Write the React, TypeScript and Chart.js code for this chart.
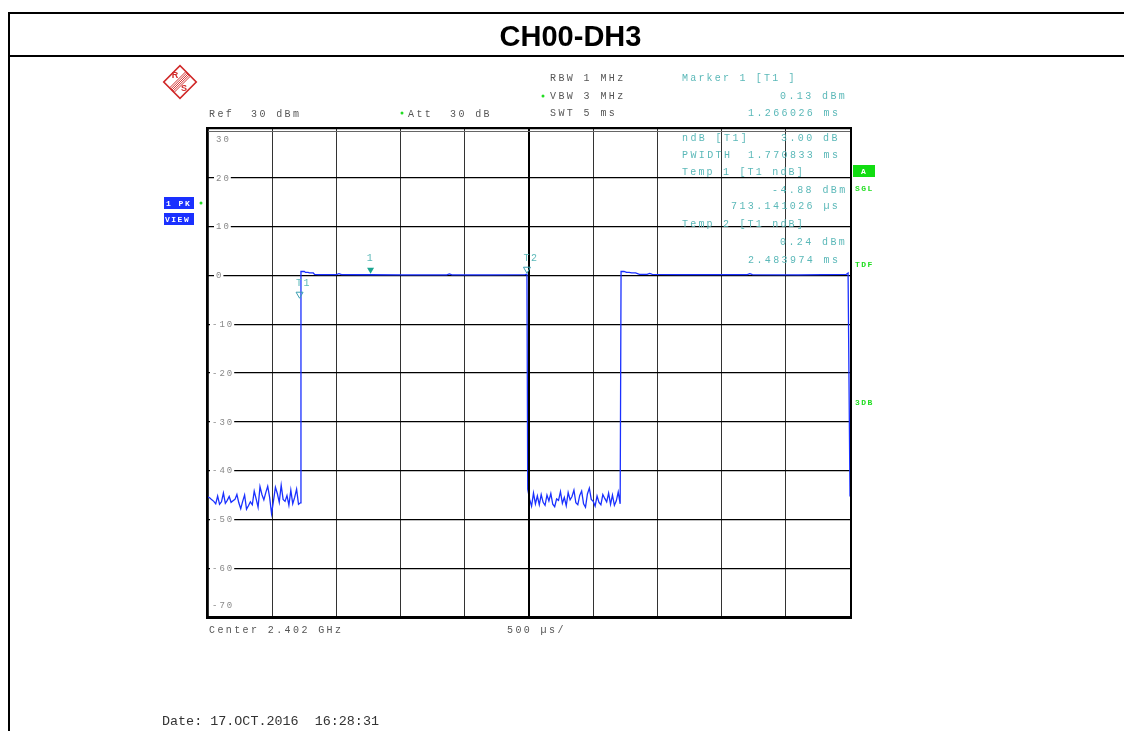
import React, { useEffect, useRef } from "react";
import { Chart, registerables } from "chart.js";
Chart.register(...registerables);

// ---- data ----
const sweepMs = 5;
const topDbm = 30;
const bottomDbm = -70;
const yTickValues = [30, 20, 10, 0, -10, -20, -30, -40, -50, -60, -70];

const noise1StartMs = 0;
const noise1EndMs = 0.72;
const noise1Dbm = [
  -45.4, -45.6, -46.0, -46.3, -46.8, -45.2, -46.9, -46.4, -44.6, -46.7,
  -46.1, -45.3, -46.5, -46.2, -45.9, -44.9, -46.6, -47.8, -46.3, -45.0,
  -47.9, -47.2, -46.4, -47.0, -44.2, -45.8, -47.5, -43.3, -44.9, -46.0,
  -44.5, -43.2, -45.5, -48.8, -46.2, -43.4, -44.7, -46.5, -43.0, -45.9,
  -46.3, -45.1, -47.1, -44.0, -46.8, -45.5, -43.8, -46.9, -46.6,
];

const burst1TimeMs = [0.724, 0.75, 0.76, 0.78, 0.79, 0.82, 0.83, 0.86, 1.0, 1.02, 1.04, 1.266, 1.5, 1.86, 1.88, 1.9, 2.2, 2.47, 2.484];
const burst1Dbm = [0.8, 0.8, 0.6, 0.6, 0.5, 0.5, 0.2, 0.15, 0.15, 0.35, 0.15, 0.13, 0.1, 0.1, 0.3, 0.1, 0.1, 0.15, 0.24];

const noise2StartMs = 2.49;
const noise2EndMs = 3.21;
const noise2Dbm = [
  -43.8, -45.9, -47.3, -44.6, -46.8, -45.2, -47.0, -44.9, -46.5, -47.1,
  -45.0, -46.2, -44.7, -46.9, -47.4, -45.8, -46.1, -44.3, -46.7, -45.5,
  -47.2, -44.5, -46.0, -45.3, -44.0, -46.6, -47.0, -45.1, -44.2, -46.8,
  -47.5, -44.8, -43.6, -45.9, -46.3, -47.3, -45.2, -46.5, -47.0, -44.9,
  -45.7, -46.4, -44.6, -46.9, -45.0, -47.1, -46.2, -44.4, -46.8,
];

const burst2TimeMs = [3.217, 3.24, 3.26, 3.28, 3.3, 3.33, 3.36, 3.42, 3.44, 3.46, 3.7, 3.9, 4.2, 4.22, 4.24, 4.6, 4.97, 4.985, 5.0];
const burst2Dbm = [0.8, 0.8, 0.6, 0.6, 0.5, 0.5, 0.2, 0.2, 0.4, 0.2, 0.15, 0.15, 0.15, 0.35, 0.15, 0.1, 0.2, 0.5, -45.3];

const markerNames = ["1", "T1", "T2"];
const markerTimeMs = [1.266026, 0.713141, 2.483974];
const markerDbm = [0.13, -4.88, 0.24];
const markerFilled = [true, false, false];

const TEAL = "#5ab8b8";
const GRAY = "#555";
const GREEN = "#22dd22";
const BLUE = "#1a30ff";
const MONO = "'Liberation Mono', 'DejaVu Sans Mono', monospace";

function buildTrace() {
  const pts: { x: number; y: number }[] = [];
  noise1Dbm.forEach((v, i) => pts.push({ x: noise1StartMs + (i * (noise1EndMs - noise1StartMs)) / (noise1Dbm.length - 1), y: v }));
  burst1TimeMs.forEach((t, i) => pts.push({ x: t, y: burst1Dbm[i] }));
  noise2Dbm.forEach((v, i) => pts.push({ x: noise2StartMs + (i * (noise2EndMs - noise2StartMs)) / (noise2Dbm.length - 1), y: v }));
  burst2TimeMs.forEach((t, i) => pts.push({ x: t, y: burst2Dbm[i] }));
  return pts;
}

function txt(ctx: CanvasRenderingContext2D, s: string, x: number, y: number, color: string, font: string, spacing = "0px", align: CanvasTextAlign = "left") {
  ctx.save();
  ctx.fillStyle = color;
  ctx.font = font;
  (ctx as any).letterSpacing = spacing;
  ctx.textAlign = align;
  ctx.textBaseline = "middle";
  ctx.fillText(s, x, y);
  ctx.restore();
}

function measure(ctx: CanvasRenderingContext2D, s: string, font: string, spacing: string) {
  ctx.save();
  ctx.font = font;
  (ctx as any).letterSpacing = spacing;
  const w = ctx.measureText(s).width;
  ctx.restore();
  return w;
}

const overlay = {
  id: "overlay",
  afterDraw(chart: any) {
    const ctx: CanvasRenderingContext2D = chart.ctx;
    const xs = chart.scales.x;
    const ys = chart.scales.y;
    const a = chart.chartArea;

    // page frame
    ctx.save();
    ctx.strokeStyle = "#000";
    ctx.lineWidth = 2;
    ctx.beginPath();
    ctx.moveTo(9, 731);
    ctx.lineTo(9, 13);
    ctx.lineTo(1124, 13);
    ctx.moveTo(9, 56);
    ctx.lineTo(1124, 56);
    ctx.stroke();
    ctx.restore();
    txt(ctx, "CH00-DH3", 570.5, 38, "#000", "bold 29px 'Liberation Sans', Arial, sans-serif", "0px", "center");

    // center line + border
    ctx.save();
    ctx.strokeStyle = "#000";
    ctx.lineWidth = 2;
    const cx = xs.getPixelForValue(sweepMs / 2);
    ctx.beginPath();
    ctx.moveTo(cx, a.top);
    ctx.lineTo(cx, a.bottom);
    ctx.stroke();
    ctx.strokeRect(a.left - 1, a.top - 1, a.right - a.left + 2, a.bottom - a.top + 2);
    ctx.lineWidth = 1;
    ctx.beginPath();
    ctx.moveTo(a.left, a.top + 2.5);
    ctx.lineTo(a.right, a.top + 2.5);
    ctx.strokeStyle = "#666";
    ctx.stroke();
    ctx.restore();

    // y tick labels
    const lf = `9px ${MONO}`;
    const lsp = "2px";
    yTickValues.forEach((v) => {
      const lbl = v.toString();
      const lx = v < 0 ? a.left + 4 : a.left + 8;
      if (v === topDbm) {
        txt(ctx, lbl, lx, a.top + 11, "#888", lf, lsp);
      } else if (v === bottomDbm) {
        txt(ctx, lbl, lx, a.bottom - 11, "#888", lf, lsp);
      } else {
        const py = ys.getPixelForValue(v);
        const w = measure(ctx, lbl, lf, lsp);
        ctx.save();
        ctx.fillStyle = "#fff";
        ctx.fillRect(lx - 2, py - 4, w + 2, 8);
        ctx.restore();
        txt(ctx, lbl, lx, py + 0.5, "#888", lf, lsp);
      }
    });

    // header texts
    const hf = `10px ${MONO}`;
    const sp = "2.4px";
    txt(ctx, "Ref  30 dBm", 209, 114, GRAY, hf, sp);
    txt(ctx, "Att  30 dB", 408, 114, GRAY, hf, sp);
    txt(ctx, "RBW 1 MHz", 550, 78, GRAY, hf, sp);
    txt(ctx, "VBW 3 MHz", 550, 96, GRAY, hf, sp);
    txt(ctx, "SWT 5 ms", 550, 113, GRAY, hf, sp);
    // green dots
    ctx.save();
    ctx.fillStyle = GREEN;
    [[402, 113], [543, 96], [201, 203]].forEach(([x, y]) => {
      ctx.beginPath();
      ctx.arc(x, y, 1.5, 0, Math.PI * 2);
      ctx.fill();
    });
    ctx.restore();

    // marker info (teal)
    const tsp = "2.2px";
    txt(ctx, "Marker 1 [T1 ]", 682, 78, TEAL, hf, tsp);
    txt(ctx, "0.13 dBm", 780, 96, TEAL, hf, sp);
    txt(ctx, "1.266026 ms", 748, 113, TEAL, hf, sp);
    txt(ctx, "ndB [T1]", 682, 138, TEAL, hf, sp);
    txt(ctx, "3.00 dB", 781, 138, TEAL, hf, sp);
    txt(ctx, "PWIDTH", 682, 155, TEAL, hf, sp);
    txt(ctx, "1.770833 ms", 748, 155, TEAL, hf, sp);
    txt(ctx, "Temp 1 [T1 ndB]", 682, 172, TEAL, hf, tsp);
    txt(ctx, "-4.88 dBm", 772, 190, TEAL, hf, sp);
    txt(ctx, "713.141026 µs", 731, 206, TEAL, hf, sp);
    txt(ctx, "Temp 2 [T1 ndB]", 682, 224, TEAL, hf, tsp);
    txt(ctx, "0.24 dBm", 780, 242, TEAL, hf, sp);
    txt(ctx, "2.483974 ms", 748, 260, TEAL, hf, sp);

    // right side status
    ctx.save();
    ctx.fillStyle = "#11dd11";
    ctx.fillRect(853, 165, 22, 12);
    ctx.restore();
    const bf = `bold 8px ${MONO}`;
    txt(ctx, "A", 864, 171.5, "#fff", bf, "1px", "center");
    txt(ctx, "SGL", 855, 189, GREEN, bf, "1.5px");
    txt(ctx, "TDF", 855, 265, GREEN, bf, "1.5px");
    txt(ctx, "3DB", 855, 403, GREEN, bf, "1.5px");

    // left boxes
    ctx.save();
    ctx.fillStyle = BLUE;
    ctx.fillRect(164, 197, 30, 12);
    ctx.fillRect(164, 213, 30, 12);
    ctx.restore();
    txt(ctx, "1 PK", 166, 203.5, "#fff", bf, "1.5px");
    txt(ctx, "VIEW", 165, 219.5, "#fff", bf, "1.5px");

    // footer texts
    txt(ctx, "Center 2.402 GHz", 209, 630, GRAY, hf, sp);
    txt(ctx, "500 µs/", 507, 630, GRAY, hf, sp);
    txt(ctx, "Date: 17.OCT.2016  16:28:31", 162, 721, "#333", `13.4px ${MONO}`, "0px");

    // logo
    ctx.save();
    ctx.translate(180, 82);
    ctx.rotate(Math.PI / 4);
    ctx.strokeStyle = "#d02828";
    ctx.lineWidth = 1.6;
    ctx.strokeRect(-11.5, -11.5, 23, 23);
    ctx.lineWidth = 0.9;
    for (let k = -2; k <= 2; k++) {
      ctx.beginPath();
      ctx.moveTo(k * 1.6, -11.5);
      ctx.lineTo(k * 1.6, 11.5);
      ctx.stroke();
    }
    ctx.restore();
    txt(ctx, "R", 175, 76, "#d02828", "bold 9px 'Liberation Sans', sans-serif", "0px", "center");
    txt(ctx, "S", 184, 89, "#d02828", "bold 9px 'Liberation Sans', sans-serif", "0px", "center");

    // markers
    markerNames.forEach((name, i) => {
      const px = xs.getPixelForValue(markerTimeMs[i]);
      const py = ys.getPixelForValue(markerDbm[i]) - 1;
      ctx.save();
      ctx.beginPath();
      ctx.moveTo(px, py);
      ctx.lineTo(px - 3.5, py - 6);
      ctx.lineTo(px + 3.5, py - 6);
      ctx.closePath();
      if (markerFilled[i]) {
        ctx.fillStyle = "#1aa590";
        ctx.fill();
      } else {
        ctx.strokeStyle = "#3a9fb0";
        ctx.lineWidth = 1;
        ctx.stroke();
      }
      ctx.restore();
      txt(ctx, name, px + (name.length > 1 ? 4 : 0), py - 15, TEAL, hf, "1.5px", "center");
    });
  },
};

export default function App() {
  const ref = useRef<HTMLCanvasElement | null>(null);
  useEffect(() => {
    if (!ref.current) return;
    const chart = new Chart(ref.current, {
      type: "line",
      data: {
        datasets: [
          {
            data: buildTrace(),
            borderColor: BLUE,
            borderWidth: 1.3,
            pointRadius: 0,
            tension: 0,
            fill: false,
          },
        ],
      },
      options: {
        responsive: false,
        animation: false,
        events: [],
        layout: { padding: { left: 208, top: 129, right: 274, bottom: 114 } },
        plugins: { legend: { display: false }, tooltip: { enabled: false }, title: { display: false } },
        scales: {
          x: {
            type: "linear",
            min: 0,
            max: sweepMs,
            ticks: { display: false, stepSize: 0.5 },
            grid: { color: "#333", lineWidth: 1, drawTicks: false },
            border: { display: false },
          },
          y: {
            type: "linear",
            min: bottomDbm,
            max: topDbm,
            ticks: { display: false, stepSize: 10 },
            grid: { color: "#000", lineWidth: 1.2, drawTicks: false },
            border: { display: false },
          },
        },
      },
      plugins: [overlay],
    });
    return () => chart.destroy();
  }, []);
  return (
    <div style={{ position: "absolute", left: 0, top: 0, width: 1124, height: 731, background: "#fff" }}>
      <canvas ref={ref} width={1124} height={731} style={{ display: "block" }} />
    </div>
  );
}
